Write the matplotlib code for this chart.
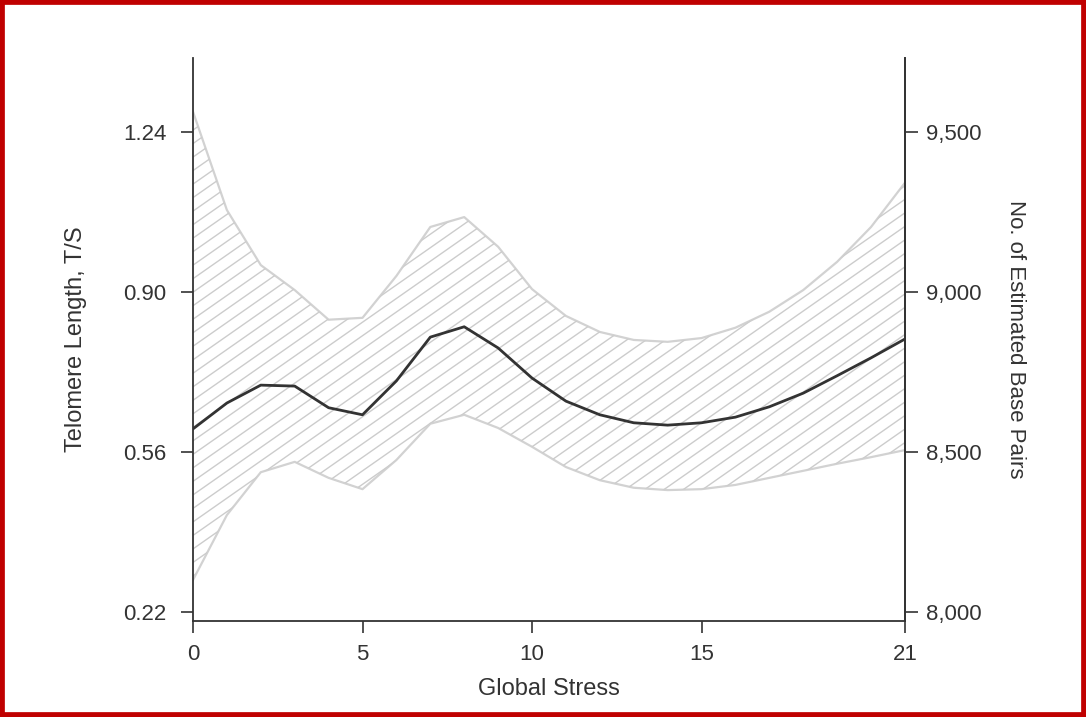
import matplotlib
matplotlib.use("Agg")
import matplotlib.pyplot as plt
import numpy as np
from matplotlib.collections import LineCollection
from matplotlib.patches import Rectangle
from matplotlib.ticker import FuncFormatter

plt.rcParams['font.family'] = ['Liberation Sans', 'DejaVu Sans']

# data
stress = list(range(22))
mean_ts = [0.609, 0.664, 0.702, 0.700, 0.654, 0.639, 0.711, 0.804, 0.826, 0.781, 0.717,
           0.668, 0.639, 0.622, 0.617, 0.622, 0.634, 0.656, 0.685, 0.722, 0.760, 0.800]
upper_ts = [1.283, 1.074, 0.957, 0.904, 0.841, 0.845, 0.934, 1.038, 1.059, 0.996, 0.906,
            0.849, 0.815, 0.798, 0.794, 0.802, 0.824, 0.858, 0.904, 0.964, 1.038, 1.132]
lower_ts = [0.288, 0.426, 0.517, 0.539, 0.505, 0.481, 0.543, 0.620, 0.639, 0.611, 0.571,
            0.528, 0.500, 0.484, 0.479, 0.481, 0.490, 0.505, 0.520, 0.535, 0.549, 0.564]

x_ticks = [0, 5, 10, 15, 21]
left_ticks = [0.22, 0.56, 0.90, 1.24]
right_ticks = [8000, 8500, 9000, 9500]

dark = '#333333'
band = '#d2d2d2'

fig = plt.figure(figsize=(10.86, 7.17), dpi=100)
ax = fig.add_axes([0.1777, 0.1339, 0.6556, 0.7852])

poly = ax.fill_between(stress, lower_ts, upper_ts, facecolor='none', edgecolor='none')
ax.plot(stress, upper_ts, color=band, lw=1.6)
ax.plot(stress, lower_ts, color=band, lw=1.6)

# diagonal hatching, clipped to the band
slope = 0.885
step = 0.024
lines = []
for c in np.arange(-1.0, 1.05, step):
    lines.append([(0, c), (1, c + slope)])
lc = LineCollection(lines, colors='#cccccc', linewidths=1.0, transform=ax.transAxes)
lc.set_clip_path(poly.get_paths()[0], poly.get_transform())
ax.add_collection(lc)

ax.plot(stress, mean_ts, color=dark, lw=2.0)

ax.set_xlim(0, 21)
ax.set_ylim(0.2009, 1.397)
ax.set_xticks(x_ticks)
ax.set_yticks(left_ticks)
ax.set_yticklabels([f"{v:.2f}" for v in left_ticks])

ax.spines['top'].set_visible(False)
for s in ['left', 'right', 'bottom']:
    ax.spines[s].set_color(dark)
    ax.spines[s].set_linewidth(1.3)

ax.tick_params(axis='y', direction='out', length=9, width=1.2, color=dark,
               labelsize=16, labelcolor=dark, pad=10)
ax.tick_params(axis='x', direction='out', length=8.5, width=1.2, color=dark,
               labelsize=16, labelcolor=dark, pad=8)

ax.set_xlabel("Global Stress", fontsize=17, color=dark)
ax.xaxis.set_label_coords(0.5, -0.101)
ax.set_ylabel("Telomere Length, T/S", fontsize=17, color=dark)
ax.yaxis.set_label_coords(-0.149, 0.5)

ax2 = ax.twinx()
ax2.set_ylim(7971.9, 9731)
ax2.set_yticks(right_ticks)
ax2.yaxis.set_major_formatter(FuncFormatter(lambda v, p: f"{int(v):,}"))
ax2.spines['top'].set_visible(False)
ax2.spines['left'].set_visible(False)
ax2.spines['bottom'].set_visible(False)
ax2.spines['right'].set_color(dark)
ax2.spines['right'].set_linewidth(1.3)
ax2.tick_params(axis='y', direction='out', length=9, width=1.2, color=dark,
                labelsize=16, labelcolor=dark, pad=6)
ax2.set_ylabel("No. of Estimated Base Pairs", fontsize=16, color=dark, rotation=270)
ax2.yaxis.set_label_coords(1.170, 0.5)

# red frame around the picture
fig.patches.append(Rectangle((0, 0), 1, 1, transform=fig.transFigure, fill=False,
                             edgecolor='#c00000', lw=7))

fig.savefig("out.png", dpi=100)
